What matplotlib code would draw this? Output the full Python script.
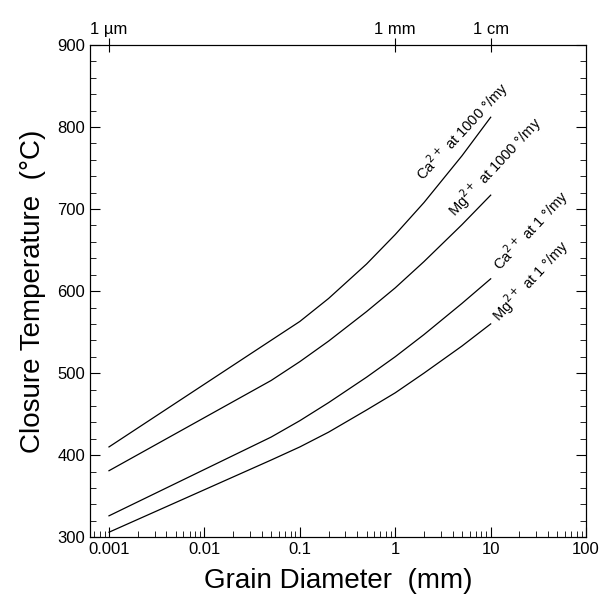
import matplotlib.pyplot as plt
from matplotlib.ticker import NullLocator, MultipleLocator, LogLocator, NullFormatter

plt.rcParams['font.family'] = ['Liberation Sans', 'DejaVu Sans']

# grain diameter (mm) and closure temperatures (deg C)
diam = [0.001, 0.05, 0.1, 0.2, 0.5, 1, 2, 5, 10]
ca_1000 = [410, 540, 563, 591, 633, 669, 708, 765, 812]
mg_1000 = [381, 491, 514, 539, 575, 604, 636, 681, 717]
ca_1 = [326, 422, 442, 464, 495, 520, 547, 585, 615]
mg_1 = [306, 394, 410, 428, 455, 476, 500, 533, 560]

labels = [r'Ca$^{2+}$ at 1000 °/my', r'Mg$^{2+}$ at 1000 °/my',
          r'Ca$^{2+}$ at 1 °/my', r'Mg$^{2+}$ at 1 °/my']
label_pos = [(2.15, 729), (4.7, 685), (13.8, 620), (13.5, 558)]

top_ticks = [0.001, 1, 10]
top_labels = ['1 µm', '1 mm', '1 cm']

fig = plt.figure(figsize=(6.03, 6.09), dpi=100)
ax = fig.add_axes([0.149, 0.118, 0.823, 0.808])

for ys in [ca_1000, mg_1000, ca_1, mg_1]:
    ax.plot(diam, ys, color='black', lw=0.9)

for txt, (x, y) in zip(labels, label_pos):
    ax.text(x, y, txt, rotation=47, rotation_mode='anchor', ha='left',
            va='bottom', fontsize=10.5)

ax.set_xscale('log')
ax.set_xlim(0.00063, 100)
ax.set_ylim(300, 900)
ax.yaxis.set_major_locator(MultipleLocator(100))
ax.yaxis.set_minor_locator(MultipleLocator(20))
ax.xaxis.set_major_locator(LogLocator(base=10))
ax.xaxis.set_minor_locator(LogLocator(base=10, subs=range(2, 10)))
ax.xaxis.set_minor_formatter(NullFormatter())
ax.set_xticks([0.001, 0.01, 0.1, 1, 10, 100])
ax.set_xticklabels(['0.001', '0.01', '0.1', '1', '10', '100'])

ax.tick_params(which='both', direction='in', top=True, right=True, labelsize=12)
ax.tick_params(which='major', length=7, width=0.8)
ax.tick_params(which='minor', length=4, width=0.6)
ax.tick_params(axis='x', which='major', top=False)

ax.set_xlabel('Grain Diameter  (mm)', fontsize=20, labelpad=8)
ax.set_ylabel('Closure Temperature  (°C)', fontsize=20, labelpad=8)

ax2 = ax.twiny()
ax2.set_xscale('log')
ax2.set_xlim(ax.get_xlim())
ax2.set_xticks(top_ticks)
ax2.set_xticklabels(top_labels)
ax2.xaxis.set_minor_locator(NullLocator())
ax2.tick_params(axis='x', direction='inout', length=10, width=0.8, labelsize=12, pad=1)

for a in (ax, ax2):
    for s in a.spines.values():
        s.set_linewidth(0.8)

fig.savefig('out.png', dpi=100)
